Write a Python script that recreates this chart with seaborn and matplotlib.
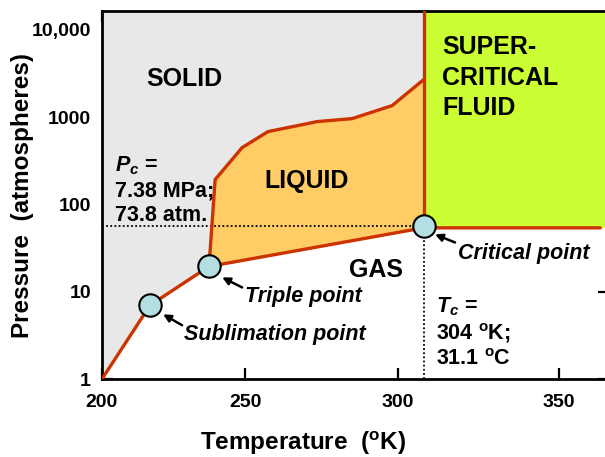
import numpy as np
import matplotlib
matplotlib.use("Agg")
import matplotlib.pyplot as plt
import seaborn as sns

# ---------------------------------------------------------
# CO2 phase diagram values
# ---------------------------------------------------------
sublim_T = [200.0, 217.1, 237.6]
sublim_P = [1.0, 7.0, 19.5]

melt_T = [237.6, 239.7, 248.9, 257.6, 273.9, 285.3, 298.2, 308.2]
melt_P = [19.5, 193, 449, 684, 891, 964, 1358, 2692]

vap_T = [237.6, 308.2, 362.4]
vap_P = [19.5, 54, 54]

point_T = [217.1, 237.6, 308.2]
point_P = [7.0, 19.5, 57.0]

Tc, Pc = 308.2, 57.0

x_ticks = [200, 250, 300, 350]
y_ticks = [1, 10, 100, 1000, 10000]
y_tick_labels = ["1", "10", "100", "1000", "10,000"]

T_MIN, T_MAX = 200, 365
P_MIN, P_MAX = 1, 16500

# ---------------------------------------------------------
# style
# ---------------------------------------------------------
sns.set_theme(style="ticks")
plt.rcParams["font.family"] = ["Liberation Sans", "DejaVu Sans"]
plt.rcParams["font.weight"] = "bold"
plt.rcParams["axes.labelweight"] = "bold"
plt.rcParams["text.color"] = "black"
plt.rcParams["axes.labelcolor"] = "black"
plt.rcParams["xtick.color"] = "black"
plt.rcParams["ytick.color"] = "black"
plt.rcParams["mathtext.fontset"] = "custom"
plt.rcParams["mathtext.rm"] = "Liberation Sans:bold"
plt.rcParams["mathtext.bf"] = "Liberation Sans:bold"
plt.rcParams["mathtext.it"] = "Liberation Sans:italic:bold"

RED = "#CC3300"
GREY = "#E8E8E8"
ORANGE = "#FFCC66"
GREEN = "#CCFF33"
DOT = "#B3DEE2"

# temperature axis in the source is slightly stretched toward the right
A, B = 2.7784, 0.001779


def fwd(t):
    d = np.asarray(t, dtype=float) - 200
    return A * d + B * d * d


def inv(u):
    u = np.asarray(u, dtype=float)
    return 200 + (-A + np.sqrt(np.maximum(A * A + 4 * B * u, 0))) / (2 * B)


fig = plt.figure(figsize=(6.05, 4.57), dpi=100)
ax = fig.add_axes([102 / 605, 78 / 457, 507 / 605, 368 / 457])
ax.set_xscale("function", functions=(fwd, inv))
ax.set_yscale("log")
ax.set_xlim(T_MIN, T_MAX)
ax.set_ylim(P_MIN, P_MAX)

# regions
solid_T = sublim_T + melt_T[1:]
solid_P = sublim_P + melt_P[1:]
ax.fill_between(solid_T, solid_P, P_MAX, color=GREY, lw=0, zorder=1)
ax.fill(melt_T + [Tc], melt_P + [vap_P[1]], color=ORANGE, lw=0, zorder=1)
ax.fill_between([Tc, T_MAX + 5], vap_P[1], P_MAX, color=GREEN, lw=0, zorder=1)

# critical values guides
ax.plot([T_MIN, Tc], [Pc, Pc], color="black", lw=1.3, ls=(0, (1, 1.3)), zorder=2)
ax.plot([Tc, Tc], [P_MIN, Pc], color="black", lw=1.3, ls=(0, (1, 1.3)), zorder=2)

# phase boundaries
sns.lineplot(x=solid_T, y=solid_P, sort=False, estimator=None, color=RED, lw=2.4, ax=ax, zorder=3)
sns.lineplot(x=vap_T, y=vap_P, sort=False, estimator=None, color=RED, lw=2.4, ax=ax, zorder=3)
ax.plot([Tc, Tc], [vap_P[1], P_MAX], color=RED, lw=2.4, zorder=3)

sns.scatterplot(x=point_T, y=point_P, s=260, color=DOT, edgecolor="black", linewidth=1.5, ax=ax, zorder=5)

# region names
ax.text(229.2, 2299, "SOLID", fontsize=18, ha="center", va="baseline")
ax.text(270.3, 156.5, "LIQUID", fontsize=18, ha="center", va="baseline")
ax.text(293.1, 14.6, "GAS", fontsize=18, ha="center", va="baseline")
ax.text(314.0, 8810, "SUPER-\nCRITICAL\nFLUID", fontsize=18, ha="left", va="top", linespacing=1.36)

# annotations
ax.text(204.7, 373, "$P_c$ =\n7.38 MPa;\n73.8 atm.", fontsize=15.5, ha="left", va="top", linespacing=1.2)
ax.text(312.2, 9.1, "$T_c$ =\n304 $^\\mathrm{o}$K;\n31.1 $^\\mathrm{o}$C", fontsize=15.5, ha="left", va="top", linespacing=1.2)

arrow = dict(arrowstyle="-|>", color="black", lw=1.8, mutation_scale=11, shrinkA=0, shrinkB=0)
ax.annotate("", xy=(221.7, 5.51), xytext=(228.3, 4.13), arrowprops=arrow, zorder=6)
ax.annotate("", xy=(242.1, 14.6), xytext=(248.9, 11.2), arrowprops=arrow, zorder=6)
ax.annotate("", xy=(311.8, 45.4), xytext=(318.1, 36.7), arrowprops=arrow, zorder=6)
ax.text(229.0, 2.78, "Sublimation point", fontsize=15.5, style="italic", ha="left", va="baseline")
ax.text(249.9, 7.56, "Triple point", fontsize=15.5, style="italic", ha="left", va="baseline")
ax.text(319.1, 23.5, "Critical point", fontsize=15.5, style="italic", ha="left", va="baseline")

# axes
ax.set_xticks(x_ticks, labels=[str(t) for t in x_ticks])
ax.set_yticks(y_ticks, labels=y_tick_labels)
ax.yaxis.set_minor_locator(matplotlib.ticker.NullLocator())
ax.xaxis.set_minor_locator(matplotlib.ticker.NullLocator())
ax.tick_params(direction="in", length=8, width=1.6, top=True, right=True, labelsize=14, color="black")
ax.tick_params(axis="x", pad=11)
ax.tick_params(axis="y", pad=8)
for s in ax.spines.values():
    s.set_linewidth(2)
    s.set_color("black")

ax.set_xlabel("Temperature  ($^\\mathrm{o}$K)", fontsize=17.5)
ax.set_ylabel("Pressure  (atmospheres)", fontsize=17.5)
ax.xaxis.set_label_coords(0.396, -0.138)
ax.yaxis.set_label_coords(-0.135, 0.5)

fig.savefig("out.png", dpi=100)
